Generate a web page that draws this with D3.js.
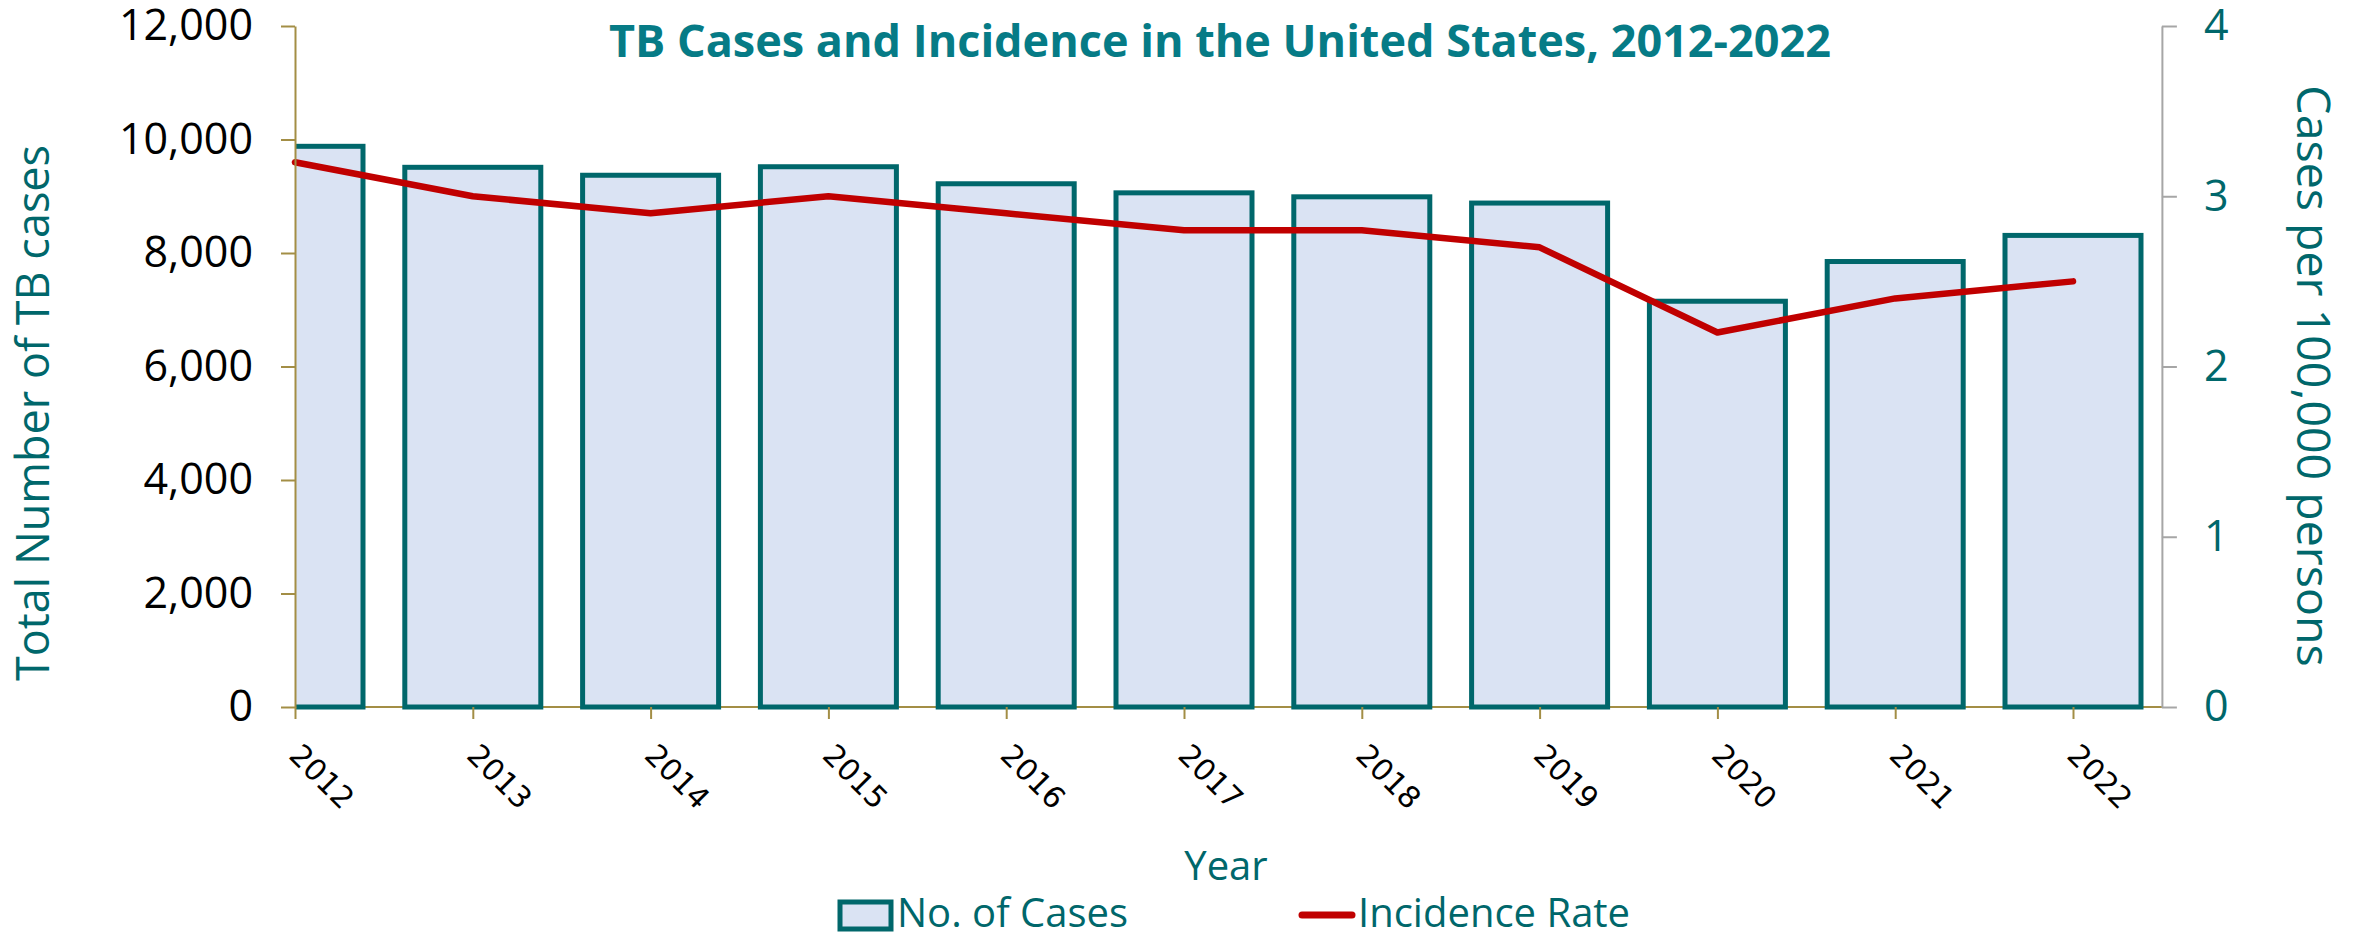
<!DOCTYPE html>
<html><head><meta charset="utf-8">
<script src="https://cdn.jsdelivr.net/npm/d3@7"></script>
<style>body{margin:0;background:#fff} svg{display:block}</style>
</head><body>
<svg id="chart" width="2364" height="935"></svg>
<script>
const years = ["2012","2013","2014","2015","2016","2017","2018","2019","2020","2021","2022"];
const cases = [9880, 9510, 9370, 9520, 9220, 9060, 8990, 8880, 7150, 7850, 8310];
const rates = [3.2, 3.0, 2.9, 3.0, 2.9, 2.8, 2.8, 2.7, 2.2, 2.4, 2.5];
const leftTicks = [0, 2000, 4000, 6000, 8000, 10000, 12000];
const rightTicks = [0, 1, 2, 3, 4];
const titleText = "TB Cases and Incidence in the United States, 2012-2022";
const leftTitle = "Total Number of TB cases";
const rightTitle = "Cases per 100,000 persons";
const xTitle = "Year";
const legendItems = ["No. of Cases", "Incidence Rate"];

(function () {
const svg = d3.select("#chart");
const olive = "#A38E45", gray = "#A6A6A6", teal = "#00676B", titleTeal = "#067B86";
const barFill = "#DAE3F3", lineRed = "#C00000";
const sansFont = "'Open Sans', 'Noto Sans', sans-serif";

const pTop = 26, pBottom = 707, pLeft = 295, lastCenter = 2073;
const x = d3.scalePoint().domain(years).range([pLeft, lastCenter]);
const step = x.step();
const pRight = lastCenter + step / 2;
const yL = d3.scaleLinear().domain([0, 12000]).range([pBottom, pTop]);
const yR = d3.scaleLinear().domain([0, 4]).range([pBottom, pTop]);
const barW = step * 0.793 - 5;

svg.append("defs").append("clipPath").attr("id", "plotclip")
  .append("rect").attr("x", pLeft + 1).attr("y", 0).attr("width", pRight - pLeft).attr("height", pBottom + 10);

// bottom axis line (under bars)
svg.append("line").attr("x1", pLeft).attr("x2", pRight).attr("y1", pBottom).attr("y2", pBottom)
  .attr("stroke", olive).attr("stroke-width", 2);

// bars
svg.append("g").attr("clip-path", "url(#plotclip)")
  .selectAll("rect").data(years).join("rect")
  .attr("x", d => x(d) - barW / 2)
  .attr("width", barW)
  .attr("y", (d, i) => yL(cases[i]))
  .attr("height", (d, i) => yL(0) - yL(cases[i]))
  .attr("fill", barFill).attr("stroke", teal).attr("stroke-width", 5);

// line
const line = d3.line().x((d, i) => x(years[i])).y(d => yR(d));
svg.append("path").datum(rates).attr("d", line)
  .attr("fill", "none").attr("stroke", lineRed).attr("stroke-width", 6.5)
  .attr("stroke-linecap", "round").attr("stroke-linejoin", "round");

// left axis
const gL = svg.append("g").attr("transform", `translate(${pLeft},0)`)
  .call(d3.axisLeft(yL).tickValues(leftTicks).tickFormat(d3.format(",")).tickSize(14).tickSizeOuter(0).tickPadding(28));
gL.select(".domain").attr("stroke", olive).attr("stroke-width", 2);
gL.selectAll(".tick line").attr("stroke", olive).attr("stroke-width", 2);
gL.selectAll(".tick text").attr("font-family", sansFont).attr("font-size", 43).attr("fill", "#000");

// right axis
const gR = svg.append("g").attr("transform", `translate(${pRight},0)`)
  .call(d3.axisRight(yR).tickValues(rightTicks).tickFormat(d3.format("d")).tickSize(15).tickSizeOuter(0).tickPadding(27));
gR.select(".domain").attr("stroke", gray).attr("stroke-width", 2);
gR.selectAll(".tick line").attr("stroke", gray).attr("stroke-width", 2);
gR.selectAll(".tick text").attr("font-family", sansFont).attr("font-size", 43).attr("fill", teal);

// bottom axis ticks + labels
const gB = svg.append("g").attr("transform", `translate(0,${pBottom})`)
  .call(d3.axisBottom(x).tickSize(12).tickSizeOuter(0));
gB.select(".domain").remove();
gB.selectAll(".tick line").attr("stroke", olive).attr("stroke-width", 2);
gB.selectAll(".tick text")
  .attr("font-family", "'DejaVu Sans', Verdana, sans-serif").attr("font-size", 30).attr("fill", "#000")
  .attr("text-anchor", "start").attr("y", 0).attr("dy", 0)
  .attr("transform", "translate(-8,50) rotate(45)");

// title
svg.append("text").attr("x", 1220).attr("y", 57).attr("text-anchor", "middle")
  .attr("font-family", sansFont).attr("font-weight", "bold").attr("font-size", 45)
  .attr("fill", titleTeal).text(titleText);

// axis titles
svg.append("text").attr("transform", "translate(49,413) rotate(-90)").attr("text-anchor", "middle")
  .attr("font-family", sansFont).attr("font-size", 45).attr("fill", teal).text(leftTitle);
svg.append("text").attr("transform", "translate(2297,376) rotate(90)").attr("text-anchor", "middle")
  .attr("font-family", sansFont).attr("font-size", 46.5).attr("fill", teal).text(rightTitle);
svg.append("text").attr("x", 1226).attr("y", 880).attr("text-anchor", "middle")
  .attr("font-family", sansFont).attr("font-size", 40).attr("fill", teal).text(xTitle);

// legend
const lg = svg.append("g");
lg.append("rect").attr("x", 840).attr("y", 902).attr("width", 51).attr("height", 27)
  .attr("fill", barFill).attr("stroke", teal).attr("stroke-width", 5);
lg.append("text").attr("x", 897).attr("y", 927).attr("font-family", sansFont).attr("font-size", 40)
  .attr("fill", teal).text(legendItems[0]);
lg.append("line").attr("x1", 1302).attr("x2", 1352).attr("y1", 915).attr("y2", 915)
  .attr("stroke", lineRed).attr("stroke-width", 7).attr("stroke-linecap", "round");
lg.append("text").attr("x", 1358).attr("y", 927).attr("font-family", sansFont).attr("font-size", 40)
  .attr("fill", teal).text(legendItems[1]);
})();
</script>
</body></html>
